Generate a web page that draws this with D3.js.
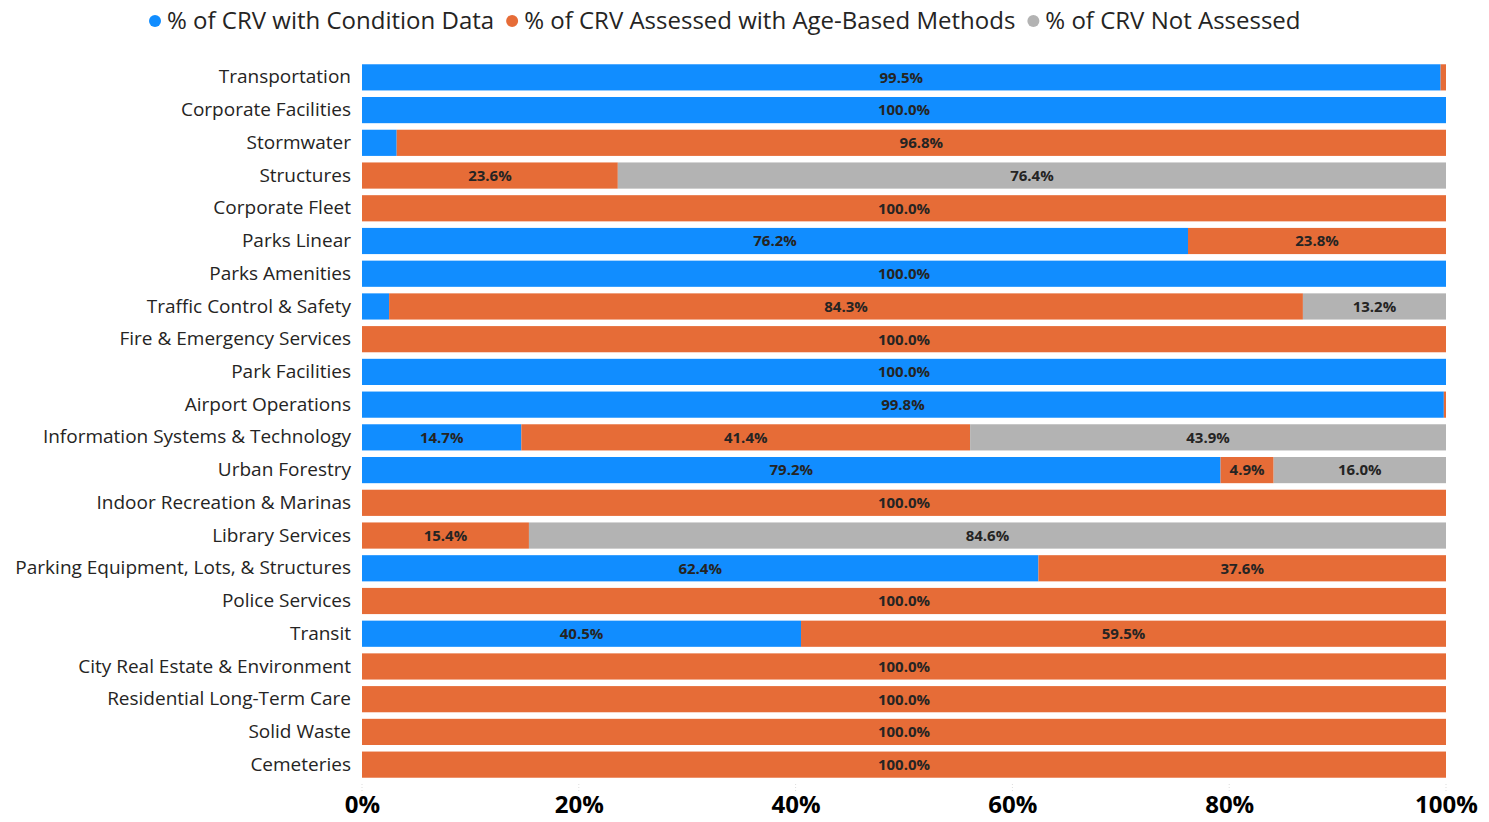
<!DOCTYPE html>
<html>
<head>
<meta charset="utf-8">
<script src="https://cdn.jsdelivr.net/npm/d3@7"></script>
<style>
  body { margin: 0; background: #fff; }
  text { font-family: "Open Sans", "Noto Sans", sans-serif; }
</style>
</head>
<body>
<div id="chart"></div>
<script>
// categories, top to bottom
var categories = ["Transportation", "Corporate Facilities", "Stormwater", "Structures", "Corporate Fleet",
    "Parks Linear", "Parks Amenities", "Traffic Control & Safety", "Fire & Emergency Services",
    "Park Facilities", "Airport Operations", "Information Systems & Technology", "Urban Forestry",
    "Indoor Recreation & Marinas", "Library Services", "Parking Equipment, Lots, & Structures",
    "Police Services", "Transit", "City Real Estate & Environment", "Residential Long-Term Care",
    "Solid Waste", "Cemeteries"];

// % of CRV with condition data
var conditionVals = [99.5, 100, 3.2, 0, 0, 76.2, 100, 2.5, 0, 100, 99.8, 14.7, 79.2, 0, 0, 62.4, 0, 40.5, 0, 0, 0, 0];
// % of CRV assessed with age-based methods
var ageVals = [0.5, 0, 96.8, 23.6, 100, 23.8, 0, 84.3, 100, 0, 0.2, 41.4, 4.9, 100, 15.4, 37.6, 100, 59.5, 100, 100, 100, 100];
// % of CRV not assessed
var notVals = [0, 0, 0, 76.4, 0, 0, 0, 13.2, 0, 0, 0, 43.9, 16.0, 0, 84.6, 0, 0, 0, 0, 0, 0, 0];

var seriesNames = ["% of CRV with Condition Data", "% of CRV Assessed with Age-Based Methods", "% of CRV Not Assessed"];
var seriesColors = ["#118DFF", "#E66C37", "#B3B3B3"];
var tickVals = [0, 20, 40, 60, 80, 100];

var W = 1489, H = 822;
var margin = {top: 61, right: 43, bottom: 41, left: 362};
var innerW = W - margin.left - margin.right;
var innerH = H - margin.top - margin.bottom;

var svg = d3.select("#chart").append("svg")
    .attr("width", W)
    .attr("height", H);

var g = svg.append("g")
    .attr("transform", "translate(" + margin.left + "," + margin.top + ")");

var x = d3.scaleLinear().domain([0, 100]).range([0, innerW]);
var y = d3.scaleBand().domain(categories).range([0, innerH]).paddingInner(0.2).paddingOuter(0.1);

// build stack table
var rows = categories.map(function(c, i) {
    return {cat: c, s0: conditionVals[i], s1: ageVals[i], s2: notVals[i]};
});
var stack = d3.stack().keys(["s0", "s1", "s2"]);
var layers = stack(rows);

// faint tick guides
g.selectAll(".guide")
    .data(tickVals)
    .enter().append("line")
    .attr("x1", d => x(d)).attr("x2", d => x(d))
    .attr("y1", innerH + 3).attr("y2", innerH + 12)
    .attr("stroke", "#ddd")
    .attr("stroke-dasharray", "1,2");

var layerG = g.selectAll(".layer")
    .data(layers)
    .enter().append("g")
    .attr("fill", (d, i) => seriesColors[i]);

layerG.selectAll("rect")
    .data(d => d)
    .enter().append("rect")
    .attr("x", d => x(d[0]))
    .attr("y", d => y(d.data.cat))
    .attr("width", d => Math.max(0, x(Math.min(d[1], 100)) - x(d[0])))
    .attr("height", y.bandwidth());

// data labels
layerG.selectAll("text")
    .data(d => d.filter(p => (p[1] - p[0]) >= 4))
    .enter().append("text")
    .attr("x", d => x((d[0] + Math.min(d[1], 100)) / 2))
    .attr("y", d => y(d.data.cat) + y.bandwidth() / 2)
    .attr("dy", "0.36em")
    .attr("text-anchor", "middle")
    .attr("fill", "#252423")
    .attr("font-size", 15)
    .attr("font-weight", "bold")
    .text(d => (d[1] - d[0]).toFixed(1) + "%");

// y axis
var yAxis = d3.axisLeft(y).tickSize(0).tickPadding(11);
var yG = g.append("g").call(yAxis);
yG.select(".domain").remove();
yG.selectAll("text")
    .attr("font-size", 19)
    .attr("fill", "#252423")
    .style("font-family", "'Open Sans', sans-serif");

// x axis
var xAxis = d3.axisBottom(x).tickValues(tickVals).tickSize(0).tickPadding(15)
    .tickFormat(d => d + "%");
var xG = g.append("g")
    .attr("transform", "translate(0," + innerH + ")")
    .call(xAxis);
xG.select(".domain").remove();
xG.selectAll("text")
    .attr("font-size", 24)
    .attr("font-weight", "bold")
    .attr("fill", "#000")
    .style("font-family", "'Open Sans', sans-serif");

// legend
var legend = svg.append("g").attr("transform", "translate(155,21)");
var lx = 0;
seriesNames.forEach(function(name, i) {
    var item = legend.append("g").attr("transform", "translate(" + lx + ",0)");
    item.append("circle").attr("r", 6).attr("cx", 0).attr("cy", 0).attr("fill", seriesColors[i]);
    var t = item.append("text")
        .attr("x", 12)
        .attr("dy", "0.35em")
        .attr("font-size", 24)
        .attr("fill", "#252423")
        .text(name);
    lx += 12 + t.node().getComputedTextLength() + 18;
});
</script>
</body>
</html>
